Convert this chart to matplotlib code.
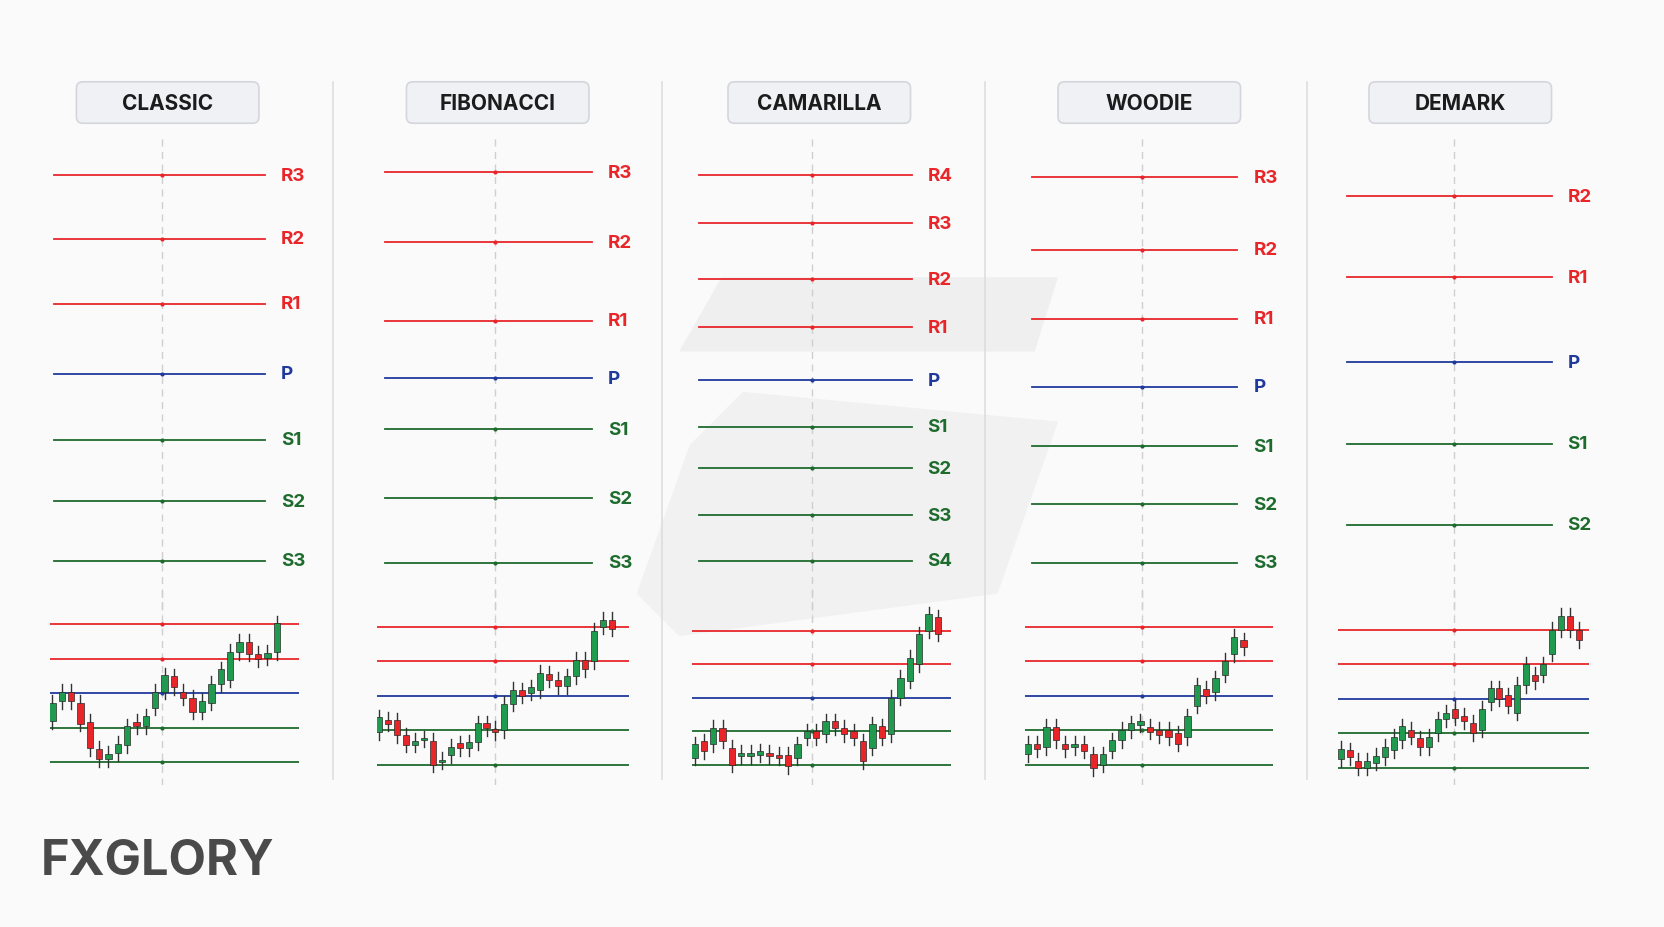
import matplotlib
matplotlib.use("Agg")
import matplotlib.pyplot as plt
from matplotlib.patches import FancyBboxPatch, Rectangle, Polygon

plt.rcParams['font.family'] = ['Inter', 'DejaVu Sans']

W, H = 1568, 874
RED, BLUE, GREEN = '#e8262a', '#1f3a9c', '#1e6b2e'
CG, CR = '#1f9a4e', '#e8262a'

titles = ["CLASSIC", "FIBONACCI", "CAMARILLA", "WOODIE", "DEMARK"]
title_x = [158, 469, 772, 1083, 1376]
separators = [314, 624, 928, 1232]

level_names = [
    ["R3", "R2", "R1", "P", "S1", "S2", "S3"],
    ["R3", "R2", "R1", "P", "S1", "S2", "S3"],
    ["R4", "R3", "R2", "R1", "P", "S1", "S2", "S3", "S4"],
    ["R3", "R2", "R1", "P", "S1", "S2", "S3"],
    ["R2", "R1", "P", "S1", "S2"],
]
level_pos = [
    [166, 226, 287, 353, 415, 473, 529],
    [163, 229, 303, 357, 405, 470, 531],
    [166, 211, 264, 309, 359, 403, 442, 486, 529],
    [168, 236, 301, 365, 421, 476, 531],
    [186, 262, 342, 419, 495],
]
line_x = [(51, 250, 153), (363, 558, 466), (659, 859, 765), (972, 1166, 1076), (1269, 1462, 1370)]

# mini charts: x range, y pixel of R2 and S2 levels, candle span fractions
mini_x = [(47, 282), (355, 593), (652, 896), (966, 1200), (1261, 1497)]
mini_span = [(0.01, 0.91), (0.01, 0.93), (0.01, 0.95), (0.01, 0.88), (0.01, 0.96)]
mini_r2 = [589, 591, 595, 591, 594]
mini_s2 = [719, 721, 721, 721, 724]
mini_levels = [4, 3, 2, 1, 0]
mini_colors = [RED, RED, BLUE, GREEN, GREEN]

opens = [
    [1.2, 1.78, 2.04, 1.73, 1.17, 0.4, 0.1, 0.27, 0.5, 1.17, 1.05, 1.58, 2.05, 2.5, 2.05, 1.87, 1.47, 1.73, 2.26, 2.4, 3.2, 3.5, 3.15, 3.04, 3.2],
    [0.94, 1.3, 1.28, 0.85, 0.58, 0.72, 0.69, 0.08, 0.27, 0.61, 0.48, 0.65, 1.2, 1.04, 1.0, 1.76, 2.15, 2.08, 2.16, 2.63, 2.46, 2.27, 2.56, 3.04, 3.0, 4.0, 4.19],
    [0.2, 0.7, 0.6, 1.1, 0.5, 0.25, 0.25, 0.3, 0.35, 0.3, 0.3, 0.2, 0.8, 1.0, 0.9, 1.3, 1.1, 1.0, 0.7, 0.5, 1.15, 0.9, 2.0, 2.5, 3.0, 4.0, 4.4],
    [0.3, 0.6, 0.5, 1.1, 0.6, 0.5, 0.6, 0.3, 0.0, 0.4, 0.7, 1.0, 1.15, 1.1, 1.0, 1.0, 0.9, 0.8, 1.7, 2.2, 2.1, 2.6, 3.2, 3.6],
    [0.25, 0.5, 0.2, 0.0, 0.15, 0.3, 0.5, 0.8, 1.1, 0.85, 0.6, 1.0, 1.4, 1.7, 1.5, 1.3, 1.1, 1.9, 2.3, 2.1, 1.6, 2.4, 2.7, 2.7, 3.3, 4.0, 4.4, 4.0],
]
closes = [
    [1.73, 2.04, 1.78, 1.12, 0.42, 0.1, 0.25, 0.54, 1.05, 1.05, 1.34, 2.05, 2.53, 2.18, 1.87, 1.47, 1.78, 2.28, 2.7, 3.2, 3.5, 3.15, 2.99, 3.18, 4.03],
    [1.37, 1.18, 0.85, 0.58, 0.68, 0.76, 0.0, 0.13, 0.51, 0.48, 0.65, 1.2, 1.06, 0.94, 1.76, 2.17, 2.0, 2.24, 2.66, 2.46, 2.27, 2.56, 3.04, 2.77, 3.87, 4.2, 3.94],
    [0.6, 0.4, 1.1, 0.7, 0.0, 0.35, 0.35, 0.4, 0.25, 0.2, -0.05, 0.6, 1.0, 0.8, 1.3, 1.1, 0.9, 0.8, 0.1, 1.2, 0.8, 2.0, 2.6, 3.2, 3.9, 4.5, 3.9],
    [0.6, 0.45, 1.1, 0.7, 0.45, 0.6, 0.4, -0.1, 0.3, 0.7, 1.0, 1.2, 1.25, 0.95, 0.85, 0.8, 0.6, 1.4, 2.3, 2.0, 2.5, 3.0, 3.7, 3.4],
    [0.55, 0.3, 0.0, 0.2, 0.35, 0.6, 0.9, 1.2, 0.9, 0.6, 0.9, 1.4, 1.6, 1.45, 1.35, 1.0, 1.7, 2.3, 2.0, 1.8, 2.4, 3.0, 2.5, 3.0, 4.0, 4.4, 4.0, 3.7],
]
wick = 0.22

fig = plt.figure(figsize=(16.64, 9.28), dpi=100)
fig.patch.set_facecolor('#fafafa')
ax = fig.add_axes([0, 0, 1, 1])
ax.set_xlim(0, W)
ax.set_ylim(H, 0)
ax.axis('off')

# faint watermark
ax.add_patch(Polygon([(680, 262), (997, 262), (975, 332), (640, 332)], closed=True, fc='#efefef', ec='none', zorder=0))
ax.add_patch(Polygon([(700, 370), (997, 398), (940, 560), (640, 600), (600, 560), (650, 420)], closed=True, fc='#f1f1f1', ec='none', zorder=0))

for sx in separators:
    ax.plot([sx, sx], [78, 735], color='#dcdde2', lw=1.2)

for i in range(5):
    tx = title_x[i]
    ax.add_patch(FancyBboxPatch((tx - 86, 78), 172, 39, boxstyle="round,pad=0,rounding_size=6",
                                fc='#f0f1f4', ec='#d4d6dc', lw=1.2))
    ax.text(tx, 98, titles[i], ha='center', va='center', fontsize=15, fontweight='bold', color='#1c1c1c')
    x0, x1, xc = line_x[i]
    ax.plot([xc, xc], [132, 580], color='#cfcfcf', lw=1, ls=(0, (5, 4)))
    for name, y in zip(level_names[i], level_pos[i]):
        c = RED if name.startswith('R') else (BLUE if name == 'P' else GREEN)
        ax.plot([x0, x1], [y, y], color=c, lw=1.3)
        ax.plot([xc], [y], marker='o', ms=2, color=c)
        ax.text(x1 + 15, y, name, ha='left', va='center', fontsize=13.5, fontweight='bold', color=c)

    # mini chart
    mx0, mx1 = mini_x[i]
    r2, s2 = mini_r2[i], mini_s2[i]
    unit = (s2 - r2) / 4.0
    top_px, bot_px = 555, 740
    ymax = (s2 - top_px) / unit
    ymin = (s2 - bot_px) / unit
    axm = fig.add_axes([mx0 / W, 1 - bot_px / H, (mx1 - mx0) / W, (bot_px - top_px) / H])
    axm.set_ylim(ymin, ymax)
    n = len(opens[i])
    f0, f1 = mini_span[i]
    step = (f1 - f0) / (n - 1)
    xl0 = -f0 / step
    xl1 = xl0 + 1.0 / step
    axm.set_xlim(xl0, xl1)
    axm.axis('off')
    axm.patch.set_alpha(0)
    xcm = xl0 + (xc - mx0) / (mx1 - mx0) * (xl1 - xl0)
    axm.plot([xcm, xcm], [ymin, ymax], color='#cfcfcf', lw=1, ls=(0, (5, 4)))
    for lv, c in zip(mini_levels, mini_colors):
        axm.axhline(lv, color=c, lw=1.3)
        axm.plot([xcm], [lv], marker='o', ms=2, color=c)
    for k, (o, cl) in enumerate(zip(opens[i], closes[i])):
        col = CG if cl >= o else CR
        lo, hi = min(o, cl), max(o, cl)
        axm.plot([k, k], [lo - wick, hi + wick], color='#333333', lw=1, zorder=2)
        axm.add_patch(Rectangle((k - 0.34, lo), 0.68, max(hi - lo, 0.05), fc=col, ec='#2a2a2a', lw=0.5, zorder=3))

# logo
ax.text(38, 812, "FXGLORY", ha='left', va='center', fontsize=35, fontweight='bold', color='#4a4a4a')

fig.savefig('out.png', dpi=100, facecolor=fig.get_facecolor())
